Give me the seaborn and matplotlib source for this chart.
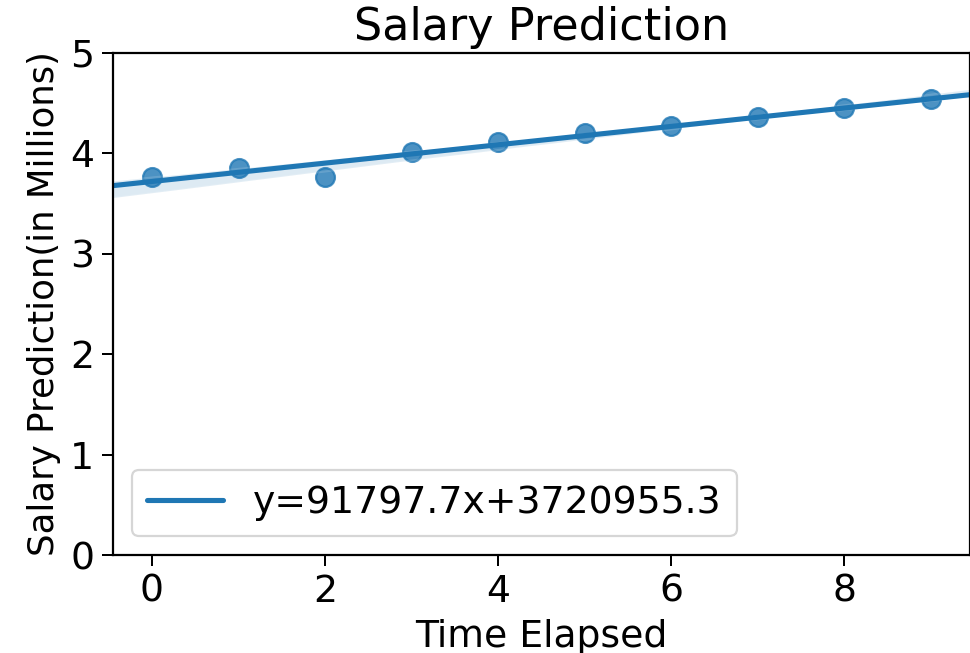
import numpy as np
import pandas as pd
import matplotlib
matplotlib.use("Agg")
import matplotlib.pyplot as plt
import seaborn as sns

# Data (salary in millions)
time_elapsed = [0, 1, 2, 3, 4, 5, 6, 7, 8, 9]
salary_millions = [3.76, 3.85, 3.76, 4.01, 4.11, 4.20, 4.27, 4.36, 4.45, 4.54]
legend_label = "y=91797.7x+3720955.3"
title = "Salary Prediction"
xlabel = "Time Elapsed"
ylabel = "Salary Prediction(in Millions)"

df = pd.DataFrame({"Time Elapsed": time_elapsed, "Salary": salary_millions})

sns.set_style("ticks")
plt.rcParams['font.family'] = ['DejaVu Sans']
plt.rcParams['text.color'] = 'black'
plt.rcParams['axes.labelcolor'] = 'black'

DPI = 160
fig, ax = plt.subplots(figsize=(970 / DPI, 653 / DPI), dpi=DPI)
sns.regplot(data=df, x="Time Elapsed", y="Salary", ax=ax, truncate=False,
            color="#1f77b4", scatter_kws={"s": 72},
            line_kws={"label": legend_label, "lw": 2.3})

ax.set_ylim(0, 5)
ax.set_xlim(-0.45, 9.45)
ax.set_title(title, fontsize=20, color="black")
ax.set_xlabel(xlabel, fontsize=17, color="black")
ax.set_ylabel(ylabel, fontsize=16, color="black")
ax.tick_params(labelsize=17, length=5, width=0.9, colors="black")
for s in ax.spines.values():
    s.set_visible(True)
    s.set_color("black")
    s.set_linewidth(1.0)
ax.legend(loc="lower left", fontsize=17, frameon=True)

fig.subplots_adjust(left=0.1165, right=1.0, top=0.919, bottom=0.150)
fig.savefig("out.png", dpi=DPI)
